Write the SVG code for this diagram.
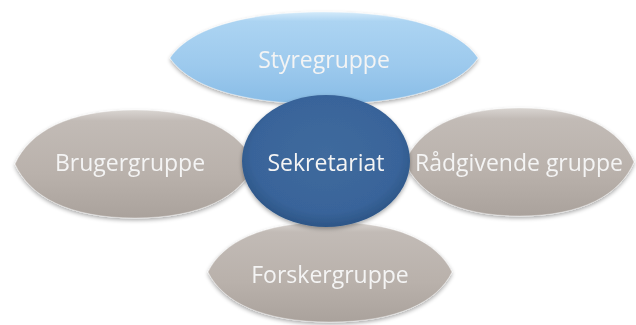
<svg xmlns="http://www.w3.org/2000/svg" width="636" height="325" viewBox="0 0 636 325">
<defs>
<linearGradient id="gBlue" x1="0" y1="0" x2="0" y2="1">
<stop offset="0" stop-color="#d3eafa"/>
<stop offset="0.1" stop-color="#acd4f2"/>
<stop offset="0.6" stop-color="#9cc9ed"/>
<stop offset="1" stop-color="#88bce6"/>
</linearGradient>
<linearGradient id="gGray" x1="0" y1="0" x2="0" y2="1">
<stop offset="0" stop-color="#d9d5d1"/>
<stop offset="0.1" stop-color="#c2bbb6"/>
<stop offset="0.6" stop-color="#b9b1ab"/>
<stop offset="1" stop-color="#aaa29c"/>
</linearGradient>
<radialGradient id="gDark" cx="0.5" cy="0.45" r="0.55">
<stop offset="0" stop-color="#3f6a9d"/>
<stop offset="0.8" stop-color="#39649a"/>
<stop offset="1" stop-color="#2c5586"/>
</radialGradient>
<filter id="sh" x="-10%" y="-10%" width="120%" height="130%">
<feGaussianBlur in="SourceAlpha" stdDeviation="2"/>
<feOffset dx="0" dy="2" result="b"/>
<feComponentTransfer><feFuncA type="linear" slope="0.35"/></feComponentTransfer>
<feMerge><feMergeNode/><feMergeNode in="SourceGraphic"/></feMerge>
</filter>
</defs>
<style>
.lbl{font-family:"Open Sans","Liberation Sans",sans-serif;font-size:23px;fill:#f4f4f4;text-anchor:middle}
.rim{fill:none;stroke:#ffffff;stroke-opacity:0.35;stroke-width:1}
</style>
<g id="connectors"></g>
<g id="styregruppe" filter="url(#sh)">
<path d="M170,58 C188.5,30.4 239.3,12 324,12 C408.7,12 459.5,30.4 478,58 C459.5,85.6 408.7,104 324,104 C239.3,104 188.5,85.6 170,58 Z" fill="url(#gBlue)"/>
<path class="rim" d="M170,58 C188.5,30.4 239.3,12 324,12 C408.7,12 459.5,30.4 478,58 C459.5,85.6 408.7,104 324,104 C239.3,104 188.5,85.6 170,58 Z"/>
<text class="lbl" x="324" y="68">Styregruppe</text>
</g>
<g id="brugergruppe" filter="url(#sh)">
<path d="M15,164 C29.4,131.6 69,110 135,110 C201,110 240.6,131.6 255,164 C240.6,196.4 201,218 135,218 C69,218 29.4,196.4 15,164 Z" fill="url(#gGray)"/>
<path class="rim" d="M15,164 C29.4,131.6 69,110 135,110 C201,110 240.6,131.6 255,164 C240.6,196.4 201,218 135,218 C69,218 29.4,196.4 15,164 Z"/>
<text class="lbl" x="130" y="171">Brugergruppe</text>
</g>
<g id="raadgivende" filter="url(#sh)">
<path d="M405,162 C418.7,129.6 456.5,108 519.5,108 C582.5,108 620.3,129.6 634,162 C620.3,194.4 582.5,216 519.5,216 C456.5,216 418.7,194.4 405,162 Z" fill="url(#gGray)"/>
<path class="rim" d="M405,162 C418.7,129.6 456.5,108 519.5,108 C582.5,108 620.3,129.6 634,162 C620.3,194.4 582.5,216 519.5,216 C456.5,216 418.7,194.4 405,162 Z"/>
<text class="lbl" x="519" y="171">Rådgivende gruppe</text>
</g>
<g id="forskergruppe" filter="url(#sh)">
<path d="M208,272 C222.6,242 262.9,222 330,222 C397.1,222 437.4,242 452,272 C437.4,302 397.1,322 330,322 C262.9,322 222.6,302 208,272 Z" fill="url(#gGray)"/>
<path class="rim" d="M208,272 C222.6,242 262.9,222 330,222 C397.1,222 437.4,242 452,272 C437.4,302 397.1,322 330,322 C262.9,322 222.6,302 208,272 Z"/>
<text class="lbl" x="330" y="283">Forskergruppe</text>
</g>
<g id="sekretariat" filter="url(#sh)">
<ellipse cx="326" cy="161" rx="84" ry="66" fill="url(#gDark)"/>
<text class="lbl" x="326" y="171">Sekretariat</text>
</g>
</svg>
